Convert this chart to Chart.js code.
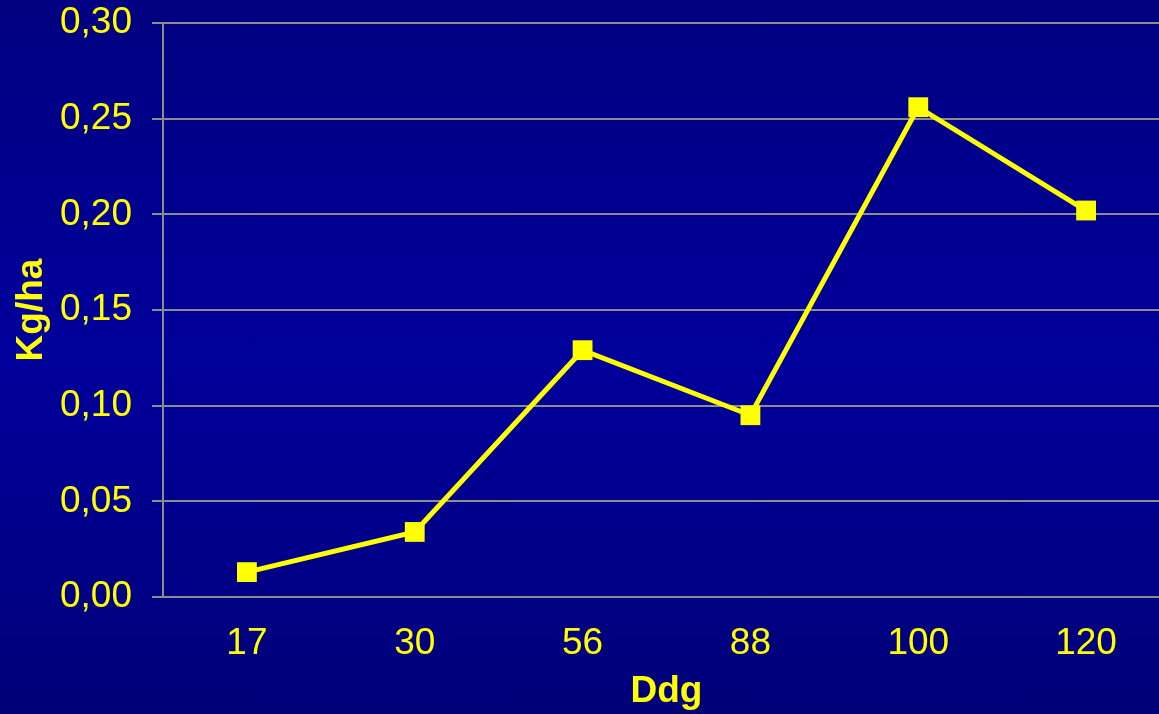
<!DOCTYPE html>
<html lang="es">

<head>
    <meta charset="UTF-8">
    <title>Kg/ha por Ddg</title>
    <script src="https://cdn.jsdelivr.net/npm/chart.js"></script>
    <style>
        html, body {
            margin: 0;
            padding: 0;
            overflow: hidden;
            width: 1159px;
            height: 714px;
        }

        body {
            background: linear-gradient(to bottom, #000080 0%, #00009b 50%, #000078 100%);
        }

        #grafico {
            display: block;
        }
    </style>
</head>

<body>
    <canvas id="grafico" width="1170" height="714"></canvas>

    <script>
        // Datos
        const categorias = ['17', '30', '56', '88', '100', '120'];
        const valores = [0.013, 0.034, 0.129, 0.095, 0.256, 0.202];
        const yMin = 0;
        const yMax = 0.30;
        const yPaso = 0.05;

        const amarillo = '#ffff00';
        const gris = '#8c8c8c';
        const fuente = 'Liberation Sans, Arial, sans-serif';

        const ctx = document.getElementById('grafico').getContext('2d');
        new Chart(ctx, {
            type: 'line',
            data: {
                labels: categorias,
                datasets: [{
                    data: valores,
                    borderColor: amarillo,
                    borderWidth: 5,
                    backgroundColor: amarillo,
                    pointStyle: 'rect',
                    pointRadius: 14,
                    pointBorderWidth: 0,
                    tension: 0,
                    fill: false
                }]
            },
            options: {
                responsive: false,
                animation: false,
                layout: {
                    autoPadding: false,
                    padding: { top: 23, right: 0, bottom: 0, left: 0 }
                },
                plugins: {
                    legend: { display: false },
                    tooltip: { enabled: false }
                },
                scales: {
                    x: {
                        offset: true,
                        grid: { display: false, drawTicks: false },
                        border: { display: true, color: gris, width: 2 },
                        ticks: {
                            color: amarillo,
                            font: { family: fuente, size: 37 },
                            padding: 25,
                            maxRotation: 0
                        },
                        title: {
                            display: true,
                            text: 'Ddg',
                            color: amarillo,
                            font: { family: fuente, size: 37, weight: 'bold' },
                            padding: { top: 0, bottom: 0 }
                        },
                        afterFit: function (scale) {
                            scale.height = 117;
                            scale.paddingLeft = 0;
                            scale.paddingRight = 0;
                        }
                    },
                    y: {
                        min: yMin,
                        max: yMax,
                        grid: { color: gris, lineWidth: 2, tickLength: 11 },
                        border: { display: true, color: gris, width: 2 },
                        ticks: {
                            stepSize: yPaso,
                            color: amarillo,
                            font: { family: fuente, size: 37 },
                            padding: 20,
                            callback: function (v) { return v.toFixed(2).replace('.', ','); }
                        },
                        title: {
                            display: true,
                            text: 'Kg/ha',
                            color: amarillo,
                            font: { family: fuente, size: 37, weight: 'bold' },
                            padding: { top: 10, bottom: 0 }
                        },
                        afterFit: function (scale) {
                            scale.width = 163;
                            scale.paddingTop = 0;
                            scale.paddingBottom = 0;
                        }
                    }
                }
            }
        });
    </script>
</body>

</html>
